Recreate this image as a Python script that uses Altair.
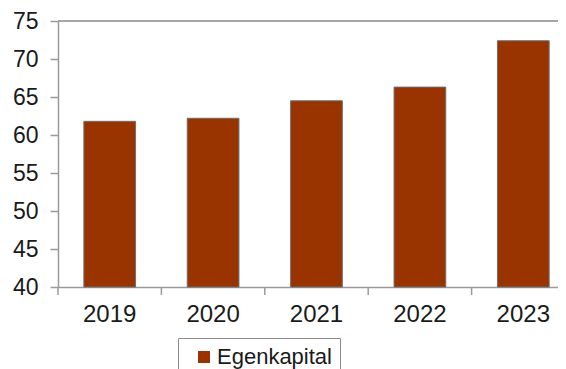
import altair as alt
import pandas as pd

years = ["2019", "2020", "2021", "2022", "2023"]
values = [61.8, 62.2, 64.5, 66.3, 72.4]
series_name = "Egenkapital"
y_ticks = [40, 45, 50, 55, 60, 65, 70, 75]
bar_color = "#993300"

FONT = "Liberation Sans, Arial, sans-serif"
TEXT = "#1a1a1a"
AXIS_GRAY = "#9a9a9a"

df = pd.DataFrame({"year": years, "value": values, "series": [series_name] * len(years)})

W, H = 500, 266
x_scale = alt.Scale(range=[0, 517], paddingInner=0.5, paddingOuter=0.25)
y_scale = alt.Scale(domain=[y_ticks[0], y_ticks[-1]], zero=False, nice=False)

x_axis = alt.Axis(title=None, labelAngle=0, ticks=False, tickSize=0, labelFontSize=24,
                  labelPadding=15, domainColor=AXIS_GRAY, domainWidth=1.5,
                  labelColor=TEXT, labelFont=FONT, grid=False)
y_axis = alt.Axis(title=None, values=y_ticks, grid=False, tickSize=8, tickColor=AXIS_GRAY,
                  tickWidth=1.5, domainColor=AXIS_GRAY, domainWidth=1.5, labelFontSize=23,
                  labelPadding=12, labelColor=TEXT, labelFont=FONT)

base = alt.Chart(df)

bars = base.mark_bar(stroke="#6e6e6e", strokeWidth=1).encode(
    x=alt.X("year:N", scale=x_scale, axis=x_axis),
    y=alt.Y("value:Q", scale=y_scale, axis=y_axis),
    y2=alt.datum(y_ticks[0]),
    color=alt.Color(
        "series:N",
        scale=alt.Scale(range=[bar_color]),
        legend=alt.Legend(
            title=None, orient="none", legendX=120, legendY=317,
            symbolType="square", symbolSize=144, symbolStrokeWidth=0,
            symbolOffset=7, labelOffset=2, padding=8,
            labelFontSize=22, labelFont=FONT, labelColor=TEXT,
            strokeColor="#8c8c8c", fillColor="white", cornerRadius=0,
        ),
    ),
)

xticks = base.mark_rule(color=AXIS_GRAY, strokeWidth=1.5, xOffset=-51.7).encode(
    x=alt.X("year:N", scale=x_scale, axis=x_axis),
    y=alt.value(H),
    y2=alt.value(H + 8),
)

top_line = alt.Chart(pd.DataFrame({"v": [y_ticks[-1]]})).mark_rule(
    color="#a6a6a6", strokeWidth=2
).encode(x=alt.value(0), x2=alt.value(530), y=alt.value(0))

chart = alt.layer(bars, xticks, top_line).properties(
    width=W, height=H,
    autosize=alt.AutoSizeParams(type="none"),
    padding={"left": 50, "top": 13, "right": 0, "bottom": 82},
).configure_view(stroke="transparent")

chart.save("out.html", embed_options={"renderer": "svg", "actions": False})
